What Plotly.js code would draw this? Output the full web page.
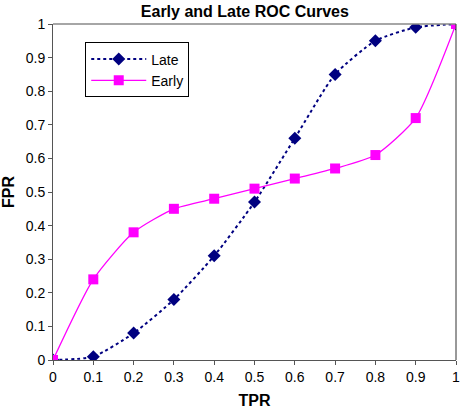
<!DOCTYPE html>
<html><head><meta charset="utf-8">
<script src="https://cdn.plot.ly/plotly-3.0.1.min.js"></script>
<style>html,body{margin:0;padding:0;background:#fff}#chart{width:462px;height:410px}</style>
</head><body><div id="chart"></div>
<script>
const tpr = [0, 0.1, 0.2, 0.3, 0.4, 0.5, 0.6, 0.7, 0.8, 0.9, 1];
const lateFPR = [0, 0.01, 0.08, 0.18, 0.31, 0.47, 0.66, 0.85, 0.95, 0.99, 1];
const earlyFPR = [0, 0.24, 0.38, 0.45, 0.48, 0.51, 0.54, 0.57, 0.61, 0.72, 1];
const tickVals = [0, 0.1, 0.2, 0.3, 0.4, 0.5, 0.6, 0.7, 0.8, 0.9, 1];
const tickText = ['0', '0.1', '0.2', '0.3', '0.4', '0.5', '0.6', '0.7', '0.8', '0.9', '1'];

const FF = 'Liberation Sans, Arial, sans-serif';
const traces = [
  {x: tpr, y: lateFPR, name: 'Late', mode: 'lines+markers',
   line: {color: '#000080', width: 2, dash: 'dot', shape: 'spline', smoothing: 0.6},
   marker: {symbol: 'diamond', size: 10, color: '#000080'}},
  {x: tpr, y: earlyFPR, name: 'Early', mode: 'lines+markers',
   line: {color: '#FF00FF', width: 1.3, shape: 'spline', smoothing: 0.6},
   marker: {symbol: 'square', size: 10, color: '#FF00FF'}}
];
const axisFont = {family: FF, size: 14, color: '#000'};
const layout = {
  width: 462, height: 410,
  margin: {l: 53, r: 6, t: 24, b: 50},
  paper_bgcolor: '#fff', plot_bgcolor: '#fff',
  title: {text: '<b>Early and Late ROC Curves</b>', x: 0.53, xanchor: 'center', y: 0.985, yanchor: 'top',
          font: {family: FF, size: 16, color: '#000'}},
  showlegend: true,
  legend: {x: 0.08, y: 0.945, xanchor: 'left', yanchor: 'top', bordercolor: '#000', borderwidth: 1,
           bgcolor: '#fff', font: {family: FF, size: 14, color: '#000'}, itemwidth: 55,
           tracegroupgap: 4},
  xaxis: {range: [0, 1], tickvals: tickVals, ticktext: tickText, ticks: 'outside', ticklen: 4, tickcolor: '#555',
          showline: true, linecolor: '#555', linewidth: 1, mirror: false, showgrid: false, zeroline: false,
          tickfont: axisFont, title: {text: '<b>TPR</b>', font: {family: FF, size: 16, color: '#000'}, standoff: 11}},
  yaxis: {range: [0, 1], tickvals: tickVals, ticktext: tickText, ticks: 'outside', ticklen: 4, tickcolor: '#555',
          showline: true, linecolor: '#555', linewidth: 1, showgrid: false, zeroline: false,
          tickfont: axisFont, title: {text: '<b>FPR</b>', font: {family: FF, size: 16, color: '#000'}, standoff: 8}},
  shapes: [
    {type: 'line', xref: 'paper', yref: 'paper', x0: 0, x1: 1, y0: 1, y1: 1, line: {color: '#888', width: 1.5}},
    {type: 'line', xref: 'paper', yref: 'paper', x0: 1, x1: 1, y0: 0, y1: 1, line: {color: '#333', width: 1}}
  ]
};
Plotly.newPlot('chart', traces, layout, {displayModeBar: false, staticPlot: true});
</script></body></html>
